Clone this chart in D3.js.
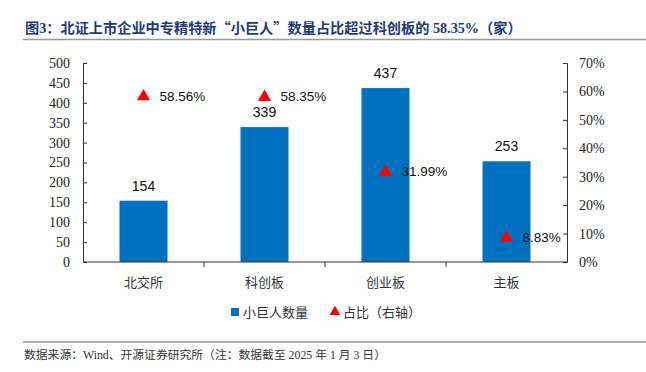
<!DOCTYPE html>
<html lang="zh">
<head>
<meta charset="UTF-8">
<script src="https://d3js.org/d3.v7.min.js"></script>
<style>
    body { margin: 0; background: #fff; }
    svg { display: block; }
</style>
</head>
<body>
<svg id="chart" width="646" height="372"></svg>
<script>
    const categories = ["北交所", "科创板", "创业板", "主板"];
    const counts = [154, 339, 437, 253];
    const shares = [0.5856, 0.5835, 0.3199, 0.0883];
    const leftTicks = [0, 50, 100, 150, 200, 250, 300, 350, 400, 450, 500];
    const rightTicks = [0, 0.1, 0.2, 0.3, 0.4, 0.5, 0.6, 0.7];

    const svg = d3.select("#chart");
    const plotLeft = 83, plotRight = 567, plotTop = 63, plotBottom = 262;
    const serif = "'Liberation Serif', 'DejaVu Serif', serif";
    const mixed = "'Liberation Serif', 'Noto Sans CJK SC', serif";
    const cjk = "'Noto Sans CJK SC', sans-serif";
    const lblFont = "'Liberation Sans', 'Noto Sans', sans-serif";

    // 标题
    const title = svg.append("text")
        .attr("x", 25).attr("y", 33)
        .attr("font-family", mixed)
        .attr("font-weight", "bold")
        .attr("font-size", 14.2)
        .attr("fill", "#1f3a78");
    [["图3：北证上市企业中专精特新", mixed], ["“小巨人”", cjk],
     ["数量占比超过科创板的 58.35%（家）", mixed]].forEach(([t, f]) => {
        title.append("tspan").attr("font-family", f).text(t);
    });
    svg.append("line").attr("x1", 23).attr("x2", 646).attr("y1", 39.5).attr("y2", 39.5)
        .attr("stroke", "#999").attr("stroke-width", 1.5);

    const x = d3.scaleBand().domain(categories).range([plotLeft, plotRight]);
    const yL = d3.scaleLinear().domain([0, 500]).range([plotBottom, plotTop]);
    const yR = d3.scaleLinear().domain([0, 0.7]).range([plotBottom, plotTop]);

    // 左轴
    const gL = svg.append("g").attr("transform", `translate(${plotLeft},0)`)
        .call(d3.axisRight(yL).tickValues(leftTicks).tickSize(4).tickFormat(d3.format("d")));
    gL.selectAll("text").attr("x", -13).attr("text-anchor", "end");

    // 右轴
    const gR = svg.append("g").attr("transform", `translate(${plotRight},0)`)
        .call(d3.axisLeft(yR).tickValues(rightTicks).tickSize(4).tickFormat(d3.format(".0%")));
    gR.selectAll("text").attr("x", 12).attr("text-anchor", "start");

    [gL, gR].forEach(g => {
        g.attr("font-family", serif).attr("font-size", 14);
        g.select(".domain").attr("stroke", "#333");
        g.selectAll("line").attr("stroke", "#333");
        g.selectAll("text").attr("fill", "#222");
    });

    // 柱
    const barW = 48;
    svg.selectAll(".bar").data(counts).enter().append("rect")
        .attr("class", "bar")
        .attr("x", (d, i) => x(categories[i]) + x.bandwidth() / 2 - barW / 2)
        .attr("y", d => yL(d))
        .attr("width", barW)
        .attr("height", d => plotBottom - yL(d))
        .attr("fill", "#0070c0");

    svg.selectAll(".barlbl").data(counts).enter().append("text")
        .attr("x", (d, i) => x(categories[i]) + x.bandwidth() / 2)
        .attr("y", d => yL(d) - 10)
        .attr("text-anchor", "middle")
        .attr("font-family", lblFont).attr("font-size", 14).attr("fill", "#111")
        .text(d => d);

    // X轴
    const gX = svg.append("g").attr("transform", `translate(0,${plotBottom})`);
    gX.append("line").attr("x1", plotLeft).attr("x2", plotRight).attr("stroke", "#333");
    gX.selectAll(".tk").data(d3.range(1, categories.length)).enter().append("line")
        .attr("x1", i => plotLeft + i * x.step()).attr("x2", i => plotLeft + i * x.step())
        .attr("y1", 0).attr("y2", 5).attr("stroke", "#333");
    gX.selectAll(".cat").data(categories).enter().append("text")
        .attr("x", d => x(d) + x.bandwidth() / 2)
        .attr("y", 25)
        .attr("text-anchor", "middle")
        .attr("font-family", cjk).attr("font-size", 13).attr("fill", "#333")
        .text(d => d);

    // 占比三角
    const tri = d3.symbol().type(d3.symbolTriangle).size(75);
    svg.selectAll(".tri").data(shares).enter().append("path")
        .attr("transform", (d, i) => `translate(${x(categories[i]) + x.bandwidth() / 2},${yR(d) + 1})`)
        .attr("d", tri)
        .attr("fill", "#ff0000");
    svg.selectAll(".trilbl").data(shares).enter().append("text")
        .attr("x", (d, i) => x(categories[i]) + x.bandwidth() / 2 + 16)
        .attr("y", d => yR(d) + 5)
        .attr("font-family", lblFont).attr("font-size", 13.5).attr("fill", "#111")
        .text(d => d3.format(".2%")(d));

    // 图例
    const lg = svg.append("g").attr("transform", "translate(0,312)");
    lg.append("rect").attr("x", 231).attr("y", -4).attr("width", 8).attr("height", 8).attr("fill", "#0070c0");
    lg.append("text").attr("x", 243).attr("y", 5).attr("font-family", cjk).attr("font-size", 13)
        .attr("fill", "#333").text("小巨人数量");
    lg.append("path").attr("transform", "translate(335,0)").attr("d", d3.symbol().type(d3.symbolTriangle).size(50))
        .attr("fill", "#ff0000");
    lg.append("text").attr("x", 343).attr("y", 5).attr("font-family", cjk).attr("font-size", 13)
        .attr("fill", "#333").text("占比（右轴）");

    // 脚注
    svg.append("line").attr("x1", 23).attr("x2", 646).attr("y1", 342).attr("y2", 342)
        .attr("stroke", "#999").attr("stroke-width", 1.5);
    svg.append("text").attr("x", 24).attr("y", 359)
        .attr("font-family", mixed).attr("font-size", 11.8).attr("fill", "#333")
        .text("数据来源：Wind、开源证券研究所（注：数据截至 2025 年 1 月 3 日）");
</script>
</body>
</html>
